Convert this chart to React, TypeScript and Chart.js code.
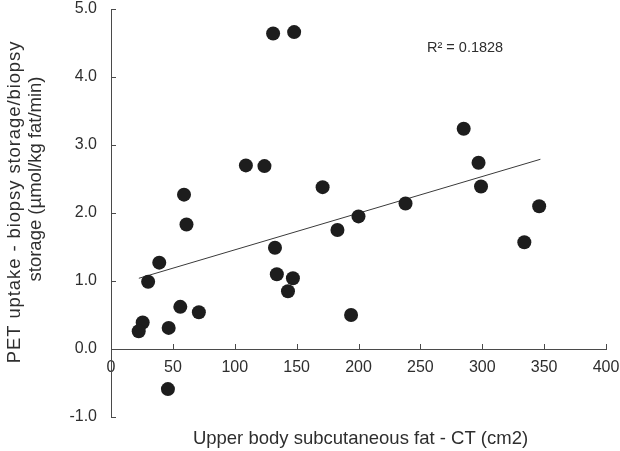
import React, { useEffect, useRef } from 'react';
import { Chart, registerables } from 'chart.js';

Chart.register(...registerables);

// upper body subcutaneous fat (cm2) vs PET - biopsy storage difference
const fatArea = [131, 148, 109, 124, 171, 59, 61, 200, 183, 132.5, 39, 30, 134, 147, 143, 56, 71, 25.6, 22.4, 46.6, 194, 46, 238, 285, 297, 299, 334, 346];
const uptakeDiff = [4.64, 4.66, 2.7, 2.69, 2.38, 2.27, 1.83, 1.95, 1.75, 1.49, 1.27, 0.99, 1.1, 1.04, 0.85, 0.62, 0.54, 0.39, 0.26, 0.31, 0.5, -0.59, 2.14, 3.24, 2.74, 2.39, 1.57, 2.1];

// linear trend line end points
const trendX = [22.5, 347];
const trendY = [1.04, 2.79];

const rSquared = 'R² = 0.1828';
const xTitle = 'Upper body subcutaneous fat - CT (cm2)';
const yTitle = ['PET uptake - biopsy storage/biopsy', 'storage (µmol/kg fat/min)'];

const FONT = '"Liberation Sans", Arial, sans-serif';
const TEXT = '#2e2e2e';
const AXIS = '#4a4a4a';

// keep the plot box where the layout padding puts it
const noPadding = (scale: any) => {
  scale.paddingTop = 0;
  scale.paddingBottom = 0;
  scale.paddingLeft = 0;
  scale.paddingRight = 0;
};

const extras = {
  id: 'extras',
  afterDraw(chart: any) {
    const { ctx, chartArea, scales } = chart;
    const x = scales.x;
    const y = scales.y;
    const y0 = y.getPixelForValue(0);
    ctx.save();
    // inward tick marks
    ctx.strokeStyle = AXIS;
    ctx.lineWidth = 1;
    ctx.beginPath();
    y.ticks.forEach((t: any) => {
      const py = Math.round(y.getPixelForValue(t.value)) + 0.5;
      ctx.moveTo(chartArea.left, py);
      ctx.lineTo(chartArea.left + 5, py);
    });
    x.ticks.forEach((t: any) => {
      const px = Math.round(x.getPixelForValue(t.value)) + 0.5;
      ctx.moveTo(px, y0);
      ctx.lineTo(px, y0 - 5);
    });
    ctx.stroke();

    ctx.fillStyle = TEXT;
    // R squared
    ctx.font = `14.5px ${FONT}`;
    ctx.textAlign = 'left';
    ctx.textBaseline = 'alphabetic';
    ctx.fillText(rSquared, 427, 52);

    // x axis title
    ctx.font = `18.5px ${FONT}`;
    ctx.textAlign = 'center';
    ctx.fillText(xTitle, (chartArea.left + chartArea.right) / 2 + 2, 444);

    // y axis title, two lines
    ctx.rotate(-Math.PI / 2);
    ctx.textBaseline = 'middle';
    ctx.font = `18.5px ${FONT}`;
    (ctx as any).letterSpacing = '0.9px';
    ctx.fillText(yTitle[0], -202, 15);
    (ctx as any).letterSpacing = '0px';
    ctx.fillText(yTitle[1], -179, 36);
    ctx.restore();
  },
};

const App: React.FC = () => {
  const chartRef = useRef<HTMLCanvasElement | null>(null);

  useEffect(() => {
    if (!chartRef.current) return;
    const points = fatArea.map((v, i) => ({ x: v, y: uptakeDiff[i] }));
    const trend = trendX.map((v, i) => ({ x: v, y: trendY[i] }));

    const myChart = new Chart(chartRef.current, {
      type: 'scatter',
      data: {
        datasets: [
          {
            label: 'data',
            data: points,
            backgroundColor: '#1d1d1d',
            borderColor: '#1d1d1d',
            borderWidth: 0,
            pointRadius: 7,
            order: 1,
          },
          {
            type: 'line',
            label: 'trend',
            data: trend,
            borderColor: '#3a3a3a',
            borderWidth: 1,
            pointRadius: 0,
            fill: false,
            order: 2,
          },
        ],
      },
      options: {
        animation: false,
        responsive: true,
        maintainAspectRatio: false,
        layout: { padding: { left: 0, top: 9, right: 14, bottom: 34 } },
        plugins: {
          legend: { display: false },
          tooltip: { enabled: false },
        },
        scales: {
          x: {
            type: 'linear',
            position: { y: 0 },
            min: 0,
            max: 400,
            afterFit: noPadding,
            grid: { display: false, drawTicks: false },
            border: { display: true, color: AXIS, width: 1 },
            ticks: {
              stepSize: 50,
              padding: 9,
              color: TEXT,
              font: { family: FONT, size: 16 },
              maxRotation: 0,
            },
          },
          y: {
            type: 'linear',
            position: 'left',
            min: -1,
            max: 5,
            afterFit: (scale: any) => {
              scale.width = 111;
              noPadding(scale);
            },
            grid: { display: false, drawTicks: false },
            border: { display: true, color: AXIS, width: 1 },
            ticks: {
              stepSize: 1,
              padding: 14,
              color: TEXT,
              font: { family: FONT, size: 16 },
              callback: (v: any) => Number(v).toFixed(1),
            },
          },
        },
      },
      plugins: [extras],
    });

    return () => myChart.destroy();
  }, []);

  return (
    <div style={{ position: 'absolute', left: 0, top: 0, width: 620, height: 451 }}>
      <canvas ref={chartRef} />
    </div>
  );
};

export default App;
